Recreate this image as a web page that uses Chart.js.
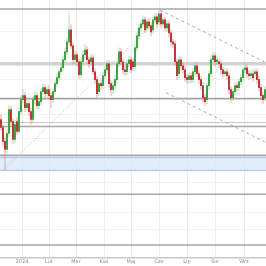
<!DOCTYPE html>
<html lang="pl">
<head>
    <meta charset="UTF-8">
    <title>Świece dzienne</title>
    <style>
        html, body { margin: 0; padding: 0; background: #fff; }
        .wrap { width: 266px; height: 266px; position: relative; }
    </style>
</head>
<body>
    <div class="wrap">
        <canvas id="chart"></canvas>
    </div>

    <script src="https://cdn.jsdelivr.net/npm/chart.js"></script>
    <script>
        // daily candles, one per trading day (index on the x axis)
        const opens = [139,131,117,109,125,149,137,119,137,127,147,159,163,151,155,147,139,159,163,153,157,167,171,165,169,163,159,167,175,181,187,191,199,207,217,229,213,199,204,197,184,197,204,209,199,197,201,187,179,167,175,173,183,189,195,175,169,173,179,195,207,197,189,187,195,199,197,192,211,223,231,235,239,231,237,233,229,239,242,237,245,235,239,231,235,226,217,215,197,185,199,193,189,181,179,183,179,187,193,185,179,173,161,159,173,185,199,203,197,197,195,189,185,187,183,169,161,167,173,171,177,181,189,191,185,183,185,185,187,179,171,163,161];
        const closes = [131,117,109,125,149,137,119,134,127,147,159,163,151,155,147,139,159,163,153,157,167,171,165,169,163,159,167,175,181,187,191,199,207,217,229,213,199,204,197,184,197,204,209,199,195,201,187,179,165,175,173,183,189,195,175,169,173,179,195,207,197,189,187,195,199,189,192,211,223,231,235,239,229,237,233,227,239,242,235,245,235,239,231,235,226,217,215,197,183,199,193,189,181,179,183,179,187,193,185,179,173,161,157,173,185,199,203,197,199,195,189,185,187,183,169,161,167,173,171,177,181,189,191,185,183,185,181,187,179,171,163,159,169];
        const highs = [144,134,121,129,153,152,140,138,141,150,163,169,166,159,158,150,162,167,166,160,170,175,174,172,173,166,170,178,185,190,195,203,211,221,246,234,216,208,207,200,201,208,214,212,202,205,204,190,182,178,179,187,193,199,198,178,176,183,198,211,210,200,193,198,203,202,200,214,227,235,239,243,242,240,241,236,243,246,245,249,248,242,242,238,238,229,220,218,200,203,202,196,192,184,186,186,190,197,196,188,182,176,164,176,188,203,207,206,203,200,198,192,190,190,186,172,170,176,176,180,184,192,196,194,188,188,189,190,190,182,174,166,172];
        const lows = [128,113,89,105,122,133,115,116,124,124,144,156,147,148,143,134,136,155,150,150,154,164,161,162,159,151,156,164,172,178,184,188,196,204,214,210,195,195,193,180,181,194,201,195,191,193,184,175,161,163,169,170,180,186,171,163,165,170,176,192,194,185,183,184,192,186,188,189,208,220,228,232,226,228,230,223,226,236,231,234,231,232,228,227,222,213,211,193,179,181,189,185,177,175,175,176,176,184,182,175,169,157,153,155,170,182,196,193,194,191,185,181,182,179,165,156,158,164,167,168,174,178,186,181,179,180,177,182,175,167,159,155,158];

        const monthTicks = [10.5, 24, 37.5, 51.5, 65, 79, 93, 107, 121.5];
        const monthLabels = ['2024', 'Lut', 'Mar', 'Kwi', 'Maj', 'Cze', 'Lip', 'Sie', 'Wrz'];

        const levels = [250, 160, 132, 103, 64, 13];
        const heavyLevel = 195;
        const pinkLevel = 136;
        const zoneTop = 101;
        const zoneBottom = 88;

        // trend lines: [x start, y start, x end, y end]
        const riseLine = [1, 88, 82.5, 248];
        const channelTop = [79.5, 249, 132.5, 196];
        const channelBottom = [82.5, 166, 132.5, 116];

        const gridValues = [29, 46, 76, 120, 144, 179, 227];

        const xMin = -0.5, xMax = opens.length - 0.5;
        const green = '#3f9f3f', red = '#bf3535';

        function hLine(v, color, width, order) {
            return {
                type: 'line', data: [{ x: xMin, y: v }, { x: xMax, y: v }],
                borderColor: color, borderWidth: width, pointRadius: 0, order: order
            };
        }

        function segment(s, color, dash) {
            return {
                type: 'line', data: [{ x: s[0], y: s[1] }, { x: s[2], y: s[3] }],
                borderColor: color, borderWidth: 1, borderDash: dash, pointRadius: 0, order: 5
            };
        }

        const up = opens.map((o, i) => closes[i] >= o);

        const datasets = [
            {
                type: 'bar',
                data: opens.map((o, i) => ({ x: i, y: [o, closes[i]] })),
                backgroundColor: up.map(u => u ? green : red),
                barThickness: 1.3, grouped: false, order: 1
            },
            {
                type: 'bar',
                data: lows.map((l, i) => ({ x: i, y: [l, highs[i]] })),
                backgroundColor: up.map(u => u ? 'rgba(120,200,120,0.35)' : 'rgba(220,110,120,0.35)'),
                barThickness: 1, grouped: false, order: 2
            },
            segment(riseLine, '#b8b8b8', [1, 2]),
            segment(channelTop, '#b79ad8', [3, 3]),
            segment(channelBottom, '#b79ad8', [3, 3]),
            hLine(heavyLevel, '#d2d2d2', 3.5, 8),
            hLine(pinkLevel, '#dcbec6', 1, 8),
            {
                type: 'line', data: [{ x: xMin, y: zoneTop }, { x: xMax, y: zoneTop }],
                borderColor: '#a9bde3', borderWidth: 1, pointRadius: 0, order: 9
            },
            {
                type: 'line', data: [{ x: xMin, y: zoneBottom }, { x: xMax, y: zoneBottom }],
                borderColor: '#a9bde3', borderWidth: 1, pointRadius: 0,
                fill: '-1', backgroundColor: 'rgba(214,229,247,0.75)', order: 9
            }
        ];
        levels.forEach(v => datasets.push(hLine(v, '#a6a6a6', 1.6, 7)));

        new Chart(document.getElementById('chart'), {
            data: { datasets: datasets },
            options: {
                responsive: true,
                maintainAspectRatio: false,
                animation: false,
                layout: { padding: 0 },
                plugins: { legend: { display: false }, tooltip: { enabled: false } },
                scales: {
                    x: {
                        type: 'linear', min: xMin, max: xMax, offset: false,
                        afterBuildTicks: axis => { axis.ticks = monthTicks.map(v => ({ value: v })); },
                        ticks: {
                            autoSkip: false, maxRotation: 0, padding: 1,
                            color: '#8a8a8a', font: { family: 'DejaVu Sans', size: 5 },
                            callback: (v, i) => monthLabels[i]
                        },
                        grid: { color: '#e9eef3', drawTicks: false, offset: false },
                        border: { color: '#c8c8c8', width: 1.5 }
                    },
                    y: {
                        min: 0, max: 259,
                        afterBuildTicks: axis => { axis.ticks = gridValues.map(v => ({ value: v })); },
                        ticks: { display: false },
                        grid: { color: '#eef2f5', drawTicks: false },
                        border: { display: false }
                    }
                }
            }
        });
    </script>
</body>
</html>
